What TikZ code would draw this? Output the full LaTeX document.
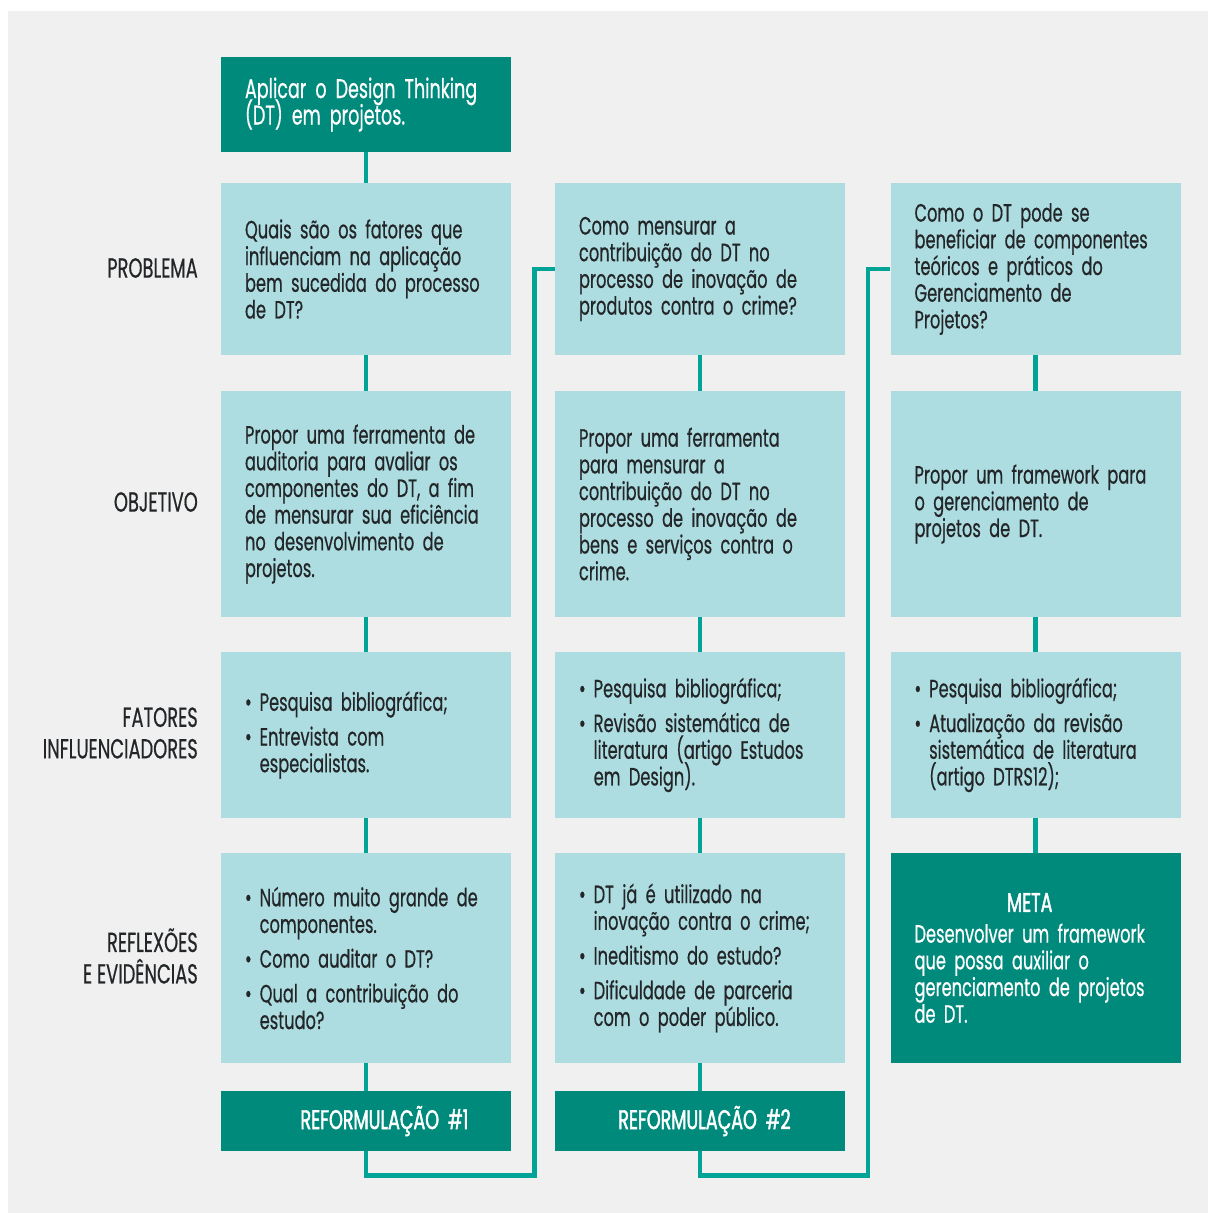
\documentclass[tikz,border=0pt]{standalone}
\usepackage{fontspec}
\setmainfont[FakeStretch=0.65, FakeBold=0.5]{Poppins}
\newfontfamily\headfont[FakeStretch=0.65, FakeBold=1.6]{Poppins}
\usepackage{tikz}

\definecolor{bggray}{RGB}{240,240,240}
\definecolor{lightbox}{RGB}{174,221,225}
\definecolor{darkbox}{RGB}{0,138,124}
\definecolor{linkteal}{RGB}{0,164,151}
\definecolor{txtgray}{RGB}{35,38,40}

\newcommand{\boxfont}{\fontsize{25bp}{26.7bp}\selectfont}
\newcommand{\titlefont}{\fontsize{27bp}{26.5bp}\selectfont}
\newcommand{\labelfont}{\fontsize{27.5bp}{31.5bp}\selectfont}
% lines of a cell, kept at a fixed baseline distance
\newcommand{\gap}{\noalign{\vskip 8bp}}
\newcommand{\cellrows}[1]{\vbox{\lineskiplimit=-\maxdimen\let\\\cr
  \halign{##\hfil\cr#1\crcr}}}
\newcommand{\cellitems}[1]{\vbox{\lineskiplimit=-\maxdimen\let\\\cr
  \halign{##\hskip 8bp&##\hfil\cr#1\crcr}}}

\tikzset{
  box/.style={rectangle, fill=lightbox, minimum width=290bp, text width=242bp,
    inner xsep=24bp, inner ysep=0pt, align=left, text=txtgray, font=\boxfont},
  darkbox/.style={box, fill=darkbox, text=white},
  rowlabel/.style={anchor=east, align=right, inner sep=0pt, text=txtgray, font=\labelfont},
  link/.style={draw=linkteal, line width=4.5bp}
}

\begin{document}
\begin{tikzpicture}[x=1bp, y=-1bp]
  \useasboundingbox (0,0) rectangle (1208,1213);
  \fill[white] (0,0) rectangle (1208,1213);
  \fill[bggray] (8,11) rectangle (1208,1213);

  % row labels
  \node[rowlabel] (lprob) at (198,268) {PROBLEMA};
  \node[rowlabel] (lobj)  at (198,502) {OBJETIVO};
  \node[rowlabel] (lfat)  at (198,733) {FATORES\\INFLUENCIADORES};
  \node[rowlabel] (lref)  at (198,956) {REFLEXÕES\\E EVIDÊNCIAS};

  % column 1
  \node[darkbox, minimum height=95bp, font=\titlefont] (top) at (366,104.5)
    {\cellrows{Aplicar o Design Thinking\\(DT) em projetos.}};
  \node[box, minimum height=172bp] (p1) at (366,269)
    {\cellrows{Quais são os fatores que\\influenciam na aplicação\\bem sucedida do processo\\de DT?}};
  \node[box, minimum height=226bp] (o1) at (366,504)
    {\cellrows{Propor uma ferramenta de\\auditoria para avaliar os\\componentes do DT, a fim\\de mensurar sua eficiência\\no desenvolvimento de\\projetos.}};
  \node[box, minimum height=166bp] (f1) at (366,735)
    {\cellitems{\textbullet & Pesquisa bibliográfica;\\\gap
                \textbullet & Entrevista com\\ & especialistas.}};
  \node[box, minimum height=210bp] (e1) at (366,958)
    {\cellitems{\textbullet & Número muito grande de\\ & componentes.\\\gap
                \textbullet & Como auditar o DT?\\\gap
                \textbullet & Qual a contribuição do\\ & estudo?}};
  \node[darkbox, minimum height=60bp, align=center, font=\headfont\fontsize{27bp}{30bp}\selectfont] (ref1) at (366,1121)
    {\hspace*{37bp}REFORMULAÇÃO \#1};

  % column 2
  \node[box, minimum height=172bp] (p2) at (700,269)
    {\cellrows{Como mensurar a\\contribuição do DT no\\processo de inovação de\\produtos contra o crime?}};
  \node[box, minimum height=226bp] (o2) at (700,504)
    {\cellrows{Propor uma ferramenta\\para mensurar a\\contribuição do DT no\\processo de inovação de\\bens e serviços contra o\\crime.}};
  \node[box, minimum height=166bp] (f2) at (700,735)
    {\cellitems{\textbullet & Pesquisa bibliográfica;\\\gap
                \textbullet & Revisão sistemática de\\ & literatura (artigo Estudos\\ & em Design).}};
  \node[box, minimum height=210bp] (e2) at (700,958)
    {\cellitems{\textbullet & DT já é utilizado na\\ & inovação contra o crime;\\\gap
                \textbullet & Ineditismo do estudo?\\\gap
                \textbullet & Dificuldade de parceria\\ & com o poder público.}};
  \node[darkbox, minimum height=60bp, align=center, font=\headfont\fontsize{27bp}{30bp}\selectfont] (ref2) at (700,1121)
    {\hspace*{9bp}REFORMULAÇÃO \#2};

  % column 3
  \node[box, minimum height=172bp] (p3) at (1035.5,269)
    {\cellrows{Como o DT pode se\\beneficiar de componentes\\teóricos e práticos do\\Gerenciamento de\\Projetos?}};
  \node[box, minimum height=226bp] (o3) at (1035.5,504)
    {\cellrows{Propor um framework para\\o gerenciamento de\\projetos de DT.}};
  \node[box, minimum height=166bp] (f3) at (1035.5,735)
    {\cellitems{\textbullet & Pesquisa bibliográfica;\\\gap
                \textbullet & Atualização da revisão\\ & sistemática de literatura\\ & (artigo DTRS12);}};
  \node[darkbox, minimum height=210bp] (meta) at (1035.5,958)
    {\cellrows{\omit\hfil{\headfont\fontsize{27bp}{26.7bp}\selectfont META}\hfil\\\noalign{\vskip 4bp}
      Desenvolver um framework\\que possa auxiliar o\\gerenciamento de projetos\\de DT.}};

  % vertical links
  \draw[link] (top) -- (p1) (p1) -- (o1) (o1) -- (f1) (f1) -- (e1) (e1) -- (ref1);
  \draw[link] (p2) -- (o2) (o2) -- (f2) (f2) -- (e2) (e2) -- (ref2);
  \draw[link] (p3) -- (o3) (o3) -- (f3) (f3) -- (meta);

  % reformulation loops
  \coordinate (loop1) at (534.5,1175.5);
  \coordinate (loop2) at (868,1175.5);
  \draw[link] (ref1.south) |- (loop1) |- (p2.west);
  \draw[link] (ref2.south) |- (loop2) |- (p3.west);
\end{tikzpicture}
\end{document}
